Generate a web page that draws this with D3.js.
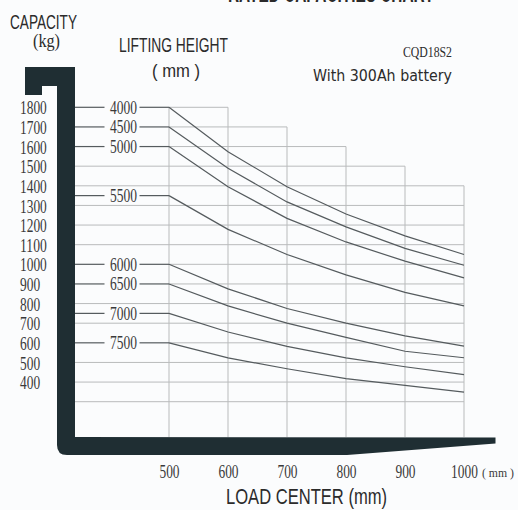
<!DOCTYPE html>
<html>
<head>
<meta charset="utf-8">
<script src="https://cdn.jsdelivr.net/npm/d3@7"></script>
<style>
  html, body { margin: 0; padding: 0; background: #fbfcfd; }
  svg { display: block; }
</style>
</head>
<body>
<div id="chart"></div>
<script>
// chart values
const loadCenters = [500, 600, 700, 800, 900, 1000];
const capacityTicks = [1800, 1700, 1600, 1500, 1400, 1300, 1200, 1100, 1000, 900, 800, 700, 600, 500, 400];
const gridRows = [1800, 1700, 1600, 1500, 1400, 1300, 1200, 1100, 1000, 900, 800, 700, 600, 500, 400, 300];
const liftHeights = [4000, 4500, 5000, 5500, 6000, 6500, 7000, 7500];
const cap4000 = [1800, 1574, 1395, 1256, 1145, 1050];
const cap4500 = [1700, 1489, 1318, 1191, 1081, 995];
const cap5000 = [1600, 1395, 1234, 1114, 1016, 931];
const cap5500 = [1350, 1178, 1050, 946, 857, 788];
const cap6000 = [1000, 875, 775, 700, 635, 583];
const cap6500 = [900, 788, 700, 628, 557, 524];
const cap7000 = [750, 655, 582, 523, 478, 438];
const cap7500 = [600, 523, 468, 418, 383, 349];
const capacities = [cap4000, cap4500, cap5000, cap5500, cap6000, cap6500, cap7000, cap7500];
// staircase: top rows stop at these load centers
const rowEnds = {1800: 600, 1700: 700, 1600: 800, 1500: 900};

const W = 518, H = 510;
const frameColor = "#1f2e33";
const gridColor = "#b9bbbc";
const lineColor = "#555b5e";
const textColor = "#3a3a3a";
const serif = "'Liberation Serif', 'Times New Roman', serif";
const narrow = "'Liberation Sans Narrow', 'Liberation Sans', Arial, sans-serif";

const svg = d3.select("#chart").append("svg")
    .attr("width", W)
    .attr("height", H);

svg.append("rect").attr("width", W).attr("height", H).attr("fill", "#fbfcfd");

const x = d3.scaleLinear().domain([500, 1000]).range([169, 464]);
const y = d3.scaleLinear().domain([300, 1800]).range([401.7, 107.3]);
const frameInner = 75, fkTop = 437;

// cut-off title at the very top
svg.append("text")
    .attr("x", 228).attr("y", 2)
    .attr("textLength", 206).attr("lengthAdjust", "spacingAndGlyphs")
    .style("font-family", narrow).style("font-size", "30px").style("font-weight", "bold")
    .attr("fill", "#2a2a2a")
    .text("RATED CAPACITIES CHART");

// grid rows
gridRows.forEach(v => {
    const hasConn = capacities.some(c => c[0] === v);
    const x0 = hasConn ? x(500) : frameInner;
    const x1 = x(rowEnds[v] || 1000);
    svg.append("line")
        .attr("x1", x0).attr("x2", x1)
        .attr("y1", y(v)).attr("y2", y(v))
        .attr("stroke", gridColor).attr("stroke-width", 1);
});

// grid columns
loadCenters.forEach(lc => {
    let top = 1800;
    Object.keys(rowEnds).forEach(k => { if (rowEnds[k] === lc) top = +k; });
    if (lc === 1000) top = 1400;
    svg.append("line")
        .attr("x1", x(lc)).attr("x2", x(lc))
        .attr("y1", y(top)).attr("y2", fkTop)
        .attr("stroke", gridColor).attr("stroke-width", 1);
});

// lifting height connectors + labels
const labelX = 123.5;
liftHeights.forEach((h, i) => {
    const yy = y(capacities[i][0]);
    svg.append("line")
        .attr("x1", frameInner).attr("x2", labelX - 19)
        .attr("y1", yy).attr("y2", yy)
        .attr("stroke", lineColor).attr("stroke-width", 1.2);
    svg.append("line")
        .attr("x1", labelX + 16).attr("x2", x(500))
        .attr("y1", yy).attr("y2", yy)
        .attr("stroke", lineColor).attr("stroke-width", 1.2);
    svg.append("text")
        .attr("x", labelX - 13.5).attr("y", yy + 6.5)
        .attr("textLength", 27).attr("lengthAdjust", "spacingAndGlyphs")
        .style("font-family", serif).style("font-size", "19px")
        .attr("fill", textColor)
        .text(h);
});

// capacity curves
const line = d3.line()
    .x((d, i) => x(loadCenters[i]))
    .y(d => y(d));

svg.selectAll(".curve")
    .data(capacities)
    .enter()
    .append("path")
    .attr("class", "curve")
    .attr("d", line)
    .attr("fill", "none")
    .attr("stroke", lineColor)
    .attr("stroke-width", 1.2);

// fork / mast frame
svg.append("path")
    .attr("d", "M25,67 H75 V437 L495.5,437.5 L495.5,443.5 L347,455 H67 Q57,455 57,445 V86 H42 V95 H25 Z")
    .attr("fill", frameColor);

// y axis labels (left aligned)
const yAxis = svg.append("g")
    .attr("transform", "translate(20,0)")
    .call(d3.axisLeft(y).tickValues(capacityTicks).tickSize(0).tickFormat(d3.format("d")));
yAxis.select(".domain").remove();
yAxis.selectAll("text")
    .attr("x", 0).attr("dy", "0.35em")
    .attr("text-anchor", "start")
    .attr("textLength", d => String(d).length * 6.7)
    .attr("lengthAdjust", "spacingAndGlyphs")
    .style("font-family", serif).style("font-size", "19px")
    .attr("fill", textColor);

// x axis labels
const xAxis = svg.append("g")
    .attr("transform", "translate(0,478)")
    .call(d3.axisBottom(x).tickValues(loadCenters).tickSize(0).tickFormat(d3.format("d")));
xAxis.select(".domain").remove();
xAxis.selectAll("text")
    .attr("y", 0).attr("dy", 0)
    .attr("x", d => -String(d).length * 3.35)
    .attr("text-anchor", "start")
    .attr("textLength", d => String(d).length * 6.7)
    .attr("lengthAdjust", "spacingAndGlyphs")
    .style("font-family", serif).style("font-size", "19px")
    .attr("fill", textColor);

svg.append("text")
    .attr("x", 482).attr("y", 477)
    .attr("textLength", 32).attr("lengthAdjust", "spacingAndGlyphs")
    .style("font-family", serif).style("font-size", "13px")
    .attr("fill", textColor)
    .text("( mm )");

// titles
function label(txt, x0, yb, len, size, family) {
    svg.append("text")
        .attr("x", x0).attr("y", yb)
        .attr("textLength", len).attr("lengthAdjust", "spacingAndGlyphs")
        .style("font-family", family).style("font-size", size + "px")
        .attr("fill", "#2b2b2b")
        .text(txt);
}
label("CAPACITY", 10, 28.5, 67, 21, narrow);
label("(kg)", 33, 47, 27, 18, serif);
label("LIFTING HEIGHT", 119, 52, 109, 21, narrow);
label("( mm )", 152, 77, 48, 18, narrow);
label("CQD18S2", 403, 57, 49, 15, serif);
label("With 300Ah battery", 313, 81, 139, 15, "'DejaVu Sans', 'Liberation Sans', sans-serif");
label("LOAD CENTER (mm)", 226, 503.5, 161, 22, narrow);
</script>
</body>
</html>
